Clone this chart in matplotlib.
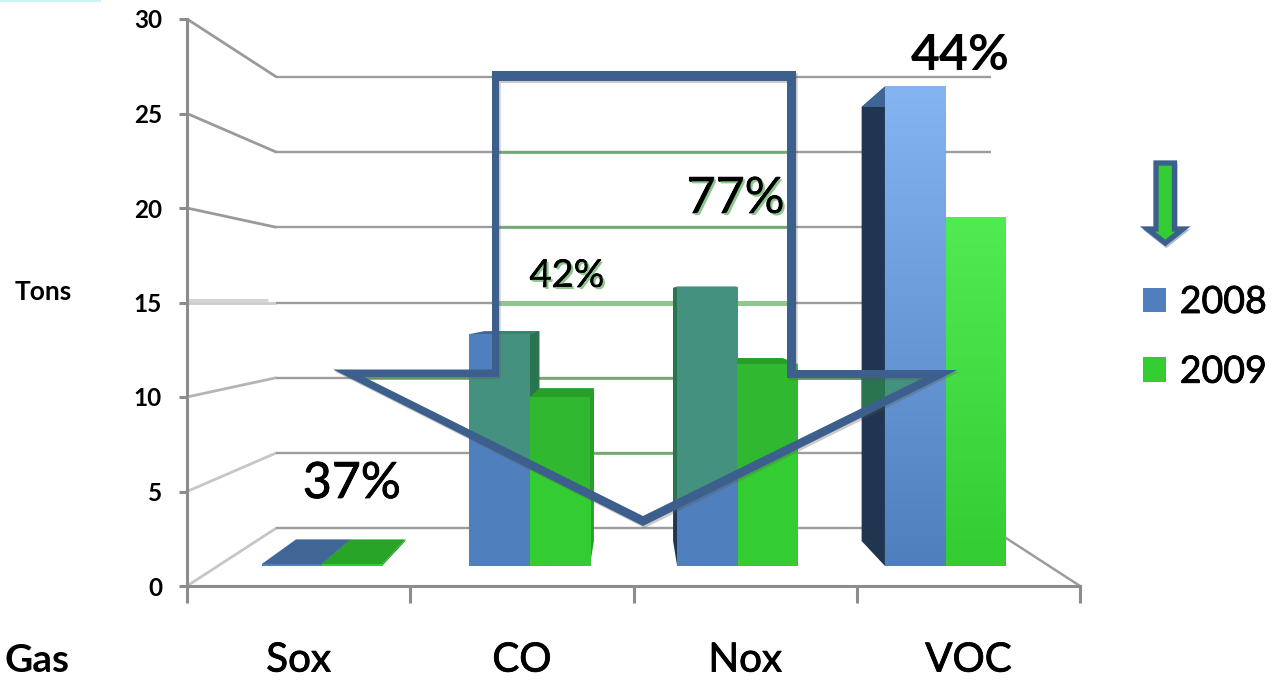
import numpy as np
import matplotlib
matplotlib.use("Agg")
import matplotlib.pyplot as plt
import matplotlib.patheffects as pe
from matplotlib.colors import to_rgb
from matplotlib.patches import PathPatch, Patch, Polygon, Rectangle
from matplotlib.path import Path
from matplotlib.transforms import Affine2D

# Emissions per gas, in tons
gases = ["Sox", "CO", "Nox", "VOC"]
tons_2008 = [0.1, 13.2, 15.9, 27.3]
tons_2009 = [0.1, 9.6, 11.5, 19.85]
y_ticks = [0, 5, 10, 15, 20, 25, 30]

W, H = 1285, 681
plt.rcParams["font.family"] = ["Lato", "DejaVu Sans"]
fig = plt.figure(figsize=(W / 100, H / 100), dpi=100, facecolor="white")

# The axes span the front plane of the chart box
ax = fig.add_axes([187 / W, (H - 586) / H, 893 / W, 567 / H])
ax.set_facecolor("none")

# Overlay shapes are placed in screen pixels, origin at the top left
screen = Affine2D().scale(1 / W, -1 / H).translate(0, 1) + fig.transFigure

BLUE, BLUE_LIGHT = "#4f7fbd", "#84b4f2"
GREEN, GREEN_LIGHT = "#33cc33", "#52ea52"
AXIS_GREY = "#8c8c8c"
GRID_GREY = "#9c9c9c"
ARROW_BLUE = "#3c5f8e"
DEPTH_FRONT, DEPTH_BACK = 0.345, 0.776
heavier = [pe.withStroke(linewidth=0.6, foreground="black")]


def project(x, value, depth):
    """Perspective position of a point at a given depth (0 front, 1 back wall)."""
    return (2 + (x - 2) * (1 - 0.2004 * depth),
            3.069 * depth + value * (1 - 0.2046 * depth))


# Big down-arrow: outline ring and the region it tints
arrow_outer = [(333, 369.5), (492, 369.5), (492, 71), (796, 71), (796, 370), (957, 370), (643, 526)]
arrow_inner = [(364, 377), (499, 377), (499, 81), (787, 81), (787, 378), (923, 378), (643, 516)]
arrow_clip = Polygon(arrow_outer, closed=True, transform=screen)

# Back-wall grid, left wall and floor edges
wall_colors = {0: "#c6c6c6", 5: "#c6c6c6", 10: "#b4b4b4", 15: "#cccccc",
               20: "#9a9a9a", 25: "#9a9a9a", 30: "#9a9a9a"}
for t in y_ticks:
    p0, p1, p2 = project(0, t, 0), project(0, t, 1), project(4, t, 1)
    ax.plot([p0[0], p1[0]], [p0[1], p1[1]], color=wall_colors[t], lw=2.0, zorder=1,
            solid_capstyle="butt", clip_on=False)
    ax.plot([p1[0], p2[0]], [p1[1], p2[1]], color=GRID_GREY, lw=1.7, zorder=1,
            solid_capstyle="butt", clip_on=False)
    tint, width = ("#8fc78f", 3.6) if t == 15 else ("#6faa6f", 1.9)
    tinted = ax.plot([p1[0], p2[0]], [p1[1], p2[1]], color=tint, lw=width, zorder=1.5,
                     solid_capstyle="butt")[0]
    tinted.set_clip_path(arrow_clip)
f0, f1 = project(4, 0, 0), project(4, 0, 1)
ax.plot([f0[0], f1[0]], [f0[1], f1[1]], color=GRID_GREY, lw=1.8, zorder=1, clip_on=False)
# Pale doubling of the level-15 wall line, a few pixels above it
ax.plot(*zip(project(0, 15, 0.0), project(0, 15, 0.9)), color="#d0d0d0", lw=2.0, zorder=1,
        transform=ax.transData + Affine2D().translate(0, 2.5), solid_capstyle="butt")


def draw_box(cat, start, width, value, front, side, top, order, clip=False, gradient=None):
    """One perspective bar: inner side, top face, then the front face."""
    xl, xr = cat + start, cat + start + width
    side_x = xr if cat < 2 else xl
    side_pts = [project(side_x, 0, DEPTH_FRONT), project(side_x, value, DEPTH_FRONT),
                project(side_x, value, DEPTH_BACK), project(side_x, 0, DEPTH_BACK)]
    top_pts = [project(xl, value, DEPTH_FRONT), project(xr, value, DEPTH_FRONT),
               project(xr, value, DEPTH_BACK), project(xl, value, DEPTH_BACK)]
    artists = []
    artists += ax.fill(*zip(*side_pts), color=side, lw=0, zorder=order)
    artists += ax.fill(*zip(*top_pts), color=top, lw=0, zorder=order + 0.01)
    left, base = project(xl, 0, DEPTH_FRONT)
    right, _ = project(xr, 0, DEPTH_FRONT)
    _, tip = project(xl, value, DEPTH_FRONT)
    rect = ax.bar(left, tip - base, bottom=base, width=right - left, align="edge",
                  color=front, lw=0, zorder=order + 0.02)[0]
    artists.append(rect)
    if gradient is not None:
        ramp = np.linspace(to_rgb(front), to_rgb(gradient), 64)[:, None, :]
        im = ax.imshow(ramp, extent=(left, right, base, tip), origin="lower", aspect="auto",
                       interpolation="bilinear", zorder=order + 0.03)
        im.set_clip_path(rect)
    if clip:
        for a in artists:
            a.set_clip_path(arrow_clip)


series = [
    dict(values=tons_2008, start=0.21, front=BLUE, light=BLUE_LIGHT, side="#203550", top="#3f6695",
         tint_front="#45917f", tint_side="#2a7550", tint_top="#3a8570"),
    dict(values=tons_2009, start=0.50, front=GREEN, light=GREEN_LIGHT, side="#26a026", top="#28a428",
         tint_front="#30b830", tint_side="#26a026", tint_top="#28a028"),
]

order = 2.0
for tinted_pass in (False, True):
    for cat in range(len(gases)):
        ordered = series if cat < 2 else series[::-1]
        for s in ordered:
            v = s["values"][cat]
            order += 0.1
            if tinted_pass:
                if cat == 0:
                    continue
                draw_box(cat, s["start"], 0.29, v, s["tint_front"], s["tint_side"], s["tint_top"],
                         order, clip=True)
            else:
                strength = (v / max(s["values"])) ** 6
                top_col = np.array(to_rgb(s["front"])) * (1 - strength) + np.array(to_rgb(s["light"])) * strength
                draw_box(cat, s["start"], 0.29, v, s["front"], s["side"], s["top"], order,
                         gradient=tuple(top_col))

# Arrow outline as a ring: outer edge plus the inner edge wound the other way
ring_pts = arrow_outer + [arrow_outer[0]] + arrow_inner[::-1] + [arrow_inner[-1]]
ring_codes = ([Path.MOVETO] + [Path.LINETO] * (len(arrow_outer) - 1) + [Path.CLOSEPOLY]
              + [Path.MOVETO] + [Path.LINETO] * (len(arrow_inner) - 1) + [Path.CLOSEPOLY])
ring = PathPatch(Path(ring_pts, ring_codes), facecolor=ARROW_BLUE, edgecolor="none",
                 transform=screen, zorder=20, clip_on=False)
ring.set_path_effects([pe.SimplePatchShadow(offset=(1.2, -1.5), shadow_rgbFace="#555555", alpha=0.3),
                       pe.Normal()])
fig.add_artist(ring)

# Axis styling
ax.set_xlim(0, 4)
ax.set_ylim(0, 30)
ax.set_aspect("auto")
for side_name in ("top", "right"):
    ax.spines[side_name].set_visible(False)
for side_name in ("left", "bottom"):
    ax.spines[side_name].set_color(AXIS_GREY)
    ax.spines[side_name].set_linewidth(2.2)
ax.set_yticks(y_ticks)
ax.tick_params(axis="y", length=5.5, width=2.2, color=AXIS_GREY, pad=12.5, labelsize=17.5)
for lab in ax.get_yticklabels():
    lab.set_fontweight("bold")
ax.set_xticks(range(5))
ax.set_xticklabels([])
ax.tick_params(axis="x", which="major", length=12, width=2.2, color=AXIS_GREY)
ax.set_xticks(np.arange(len(gases)) + 0.5, minor=True)
ax.set_xticklabels(gases, minor=True, fontsize=29, path_effects=heavier)
ax.tick_params(axis="x", which="minor", length=0, pad=40)

# Axis captions
fig.text(43 / W, 1 - 292 / H, "Tons", fontsize=19, fontweight="bold", ha="center", va="center")
fig.text(5 / W, 1 - 672 / H, "Gas", fontsize=28, fontweight="bold", ha="left", va="baseline")

# Reduction labels
green_shadow = pe.withSimplePatchShadow(offset=(1.5, -1.5), shadow_rgbFace="#8cc68c", alpha=1)
for txt, px, py, size, bold, effects in [
    ("37%", 352, 484, 36, False, heavier),
    ("42%", 567, 276, 27.5, False, heavier + [green_shadow]),
    ("77%", 736, 199, 36, False, heavier + [green_shadow]),
    ("44%", 960, 55, 36, True, None),
]:
    t = fig.text(px / W, 1 - py / H, txt, fontsize=size, fontweight="bold" if bold else "normal",
                 ha="center", va="center", color="black", zorder=30)
    if effects:
        t.set_path_effects(effects)

# Small arrow above the legend
small_arrow = [(1156, 163), (1174.5, 163), (1174.5, 229), (1183, 229), (1165.3, 243), (1147.5, 229), (1156, 229)]
under = Polygon([(x + 1, y + 2.5) for x, y in small_arrow], closed=True, facecolor="#a9bcd6",
                edgecolor="#a9bcd6", lw=3, transform=screen)
fig.add_artist(under)
fig.add_artist(Polygon(small_arrow, closed=True, facecolor=GREEN, edgecolor=ARROW_BLUE, lw=3.8,
                       joinstyle="miter", transform=screen))

# Legend
legend = fig.legend(handles=[Patch(facecolor=BLUE, label="2008"), Patch(facecolor=GREEN, label="2009")],
                    loc="upper left", bbox_to_anchor=(1143 / W, 1 - 284 / H), frameon=False, fontsize=27,
                    handlelength=0.62, handleheight=0.62, handletextpad=0.36, labelspacing=0.9,
                    borderpad=0, borderaxespad=0)
for label in legend.get_texts():
    label.set_path_effects(heavier)

# Pale strip in the top left corner
fig.add_artist(Rectangle((0, 0), 101, 2, facecolor="#c8f6f6", edgecolor="none", transform=screen))

fig.savefig("out.png", dpi=100, facecolor="white")
